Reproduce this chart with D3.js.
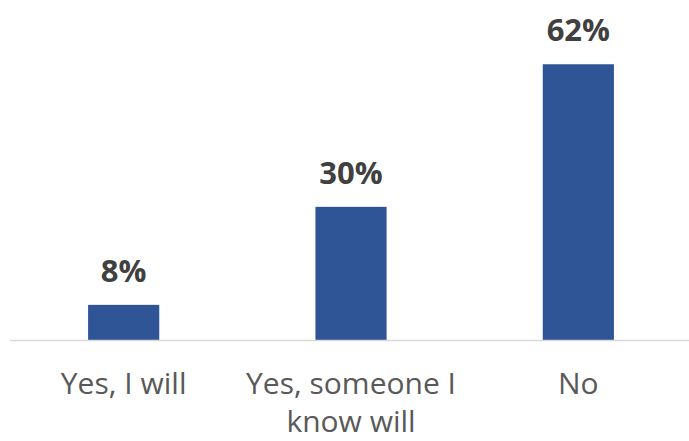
<!DOCTYPE html>
<html><head><meta charset="utf-8">
<script src="https://cdn.jsdelivr.net/npm/d3@7"></script>
<style>html,body{margin:0;padding:0;background:#fff;}</style>
</head><body>
<svg id="chart" width="689" height="441"></svg>
<script>
const categories = [["Yes, I will"], ["Yes, someone I", "know will"], ["No"]];
const categoryKeys = ["Yes, I will", "Yes, someone I know will", "No"];
const values = [8, 30, 62];

const svg = d3.select("#chart");
const x = d3.scaleBand().domain(categoryKeys).range([10, 692]).paddingInner(0.687).paddingOuter(0.3435);
const y = d3.scaleLinear().domain([0, 70]).range([340.5, 28.6]);

svg.selectAll("rect.bar").data(values).enter().append("rect")
  .attr("class", "bar")
  .attr("x", (d, i) => x(categoryKeys[i]))
  .attr("width", x.bandwidth())
  .attr("y", d => y(d))
  .attr("height", d => y(0) - y(d))
  .attr("fill", "#2F5597");

svg.append("line")
  .attr("x1", 10).attr("x2", 689)
  .attr("y1", y(0)).attr("y2", y(0))
  .attr("stroke", "#d9d9d9").attr("stroke-width", 1.5);

svg.selectAll("text.val").data(values).enter().append("text")
  .attr("class", "val")
  .attr("x", (d, i) => x(categoryKeys[i]) + x.bandwidth() / 2)
  .attr("y", d => y(d) - 23)
  .attr("text-anchor", "middle")
  .attr("font-family", "'Open Sans', sans-serif")
  .attr("font-weight", "bold")
  .attr("font-size", 31)
  .attr("fill", "#404040")
  .text(d => d + "%");

const labels = svg.selectAll("text.cat").data(categories).enter().append("text")
  .attr("class", "cat")
  .attr("text-anchor", "middle")
  .attr("font-family", "'Open Sans', sans-serif")
  .attr("font-size", 30)
  .attr("fill", "#595959");
labels.each(function(lines, i) {
  const t = d3.select(this);
  lines.forEach((ln, j) => {
    t.append("tspan")
      .attr("x", x(categoryKeys[i]) + x.bandwidth() / 2)
      .attr("y", 394 + j * 38)
      .text(ln);
  });
});
</script>
</body></html>
